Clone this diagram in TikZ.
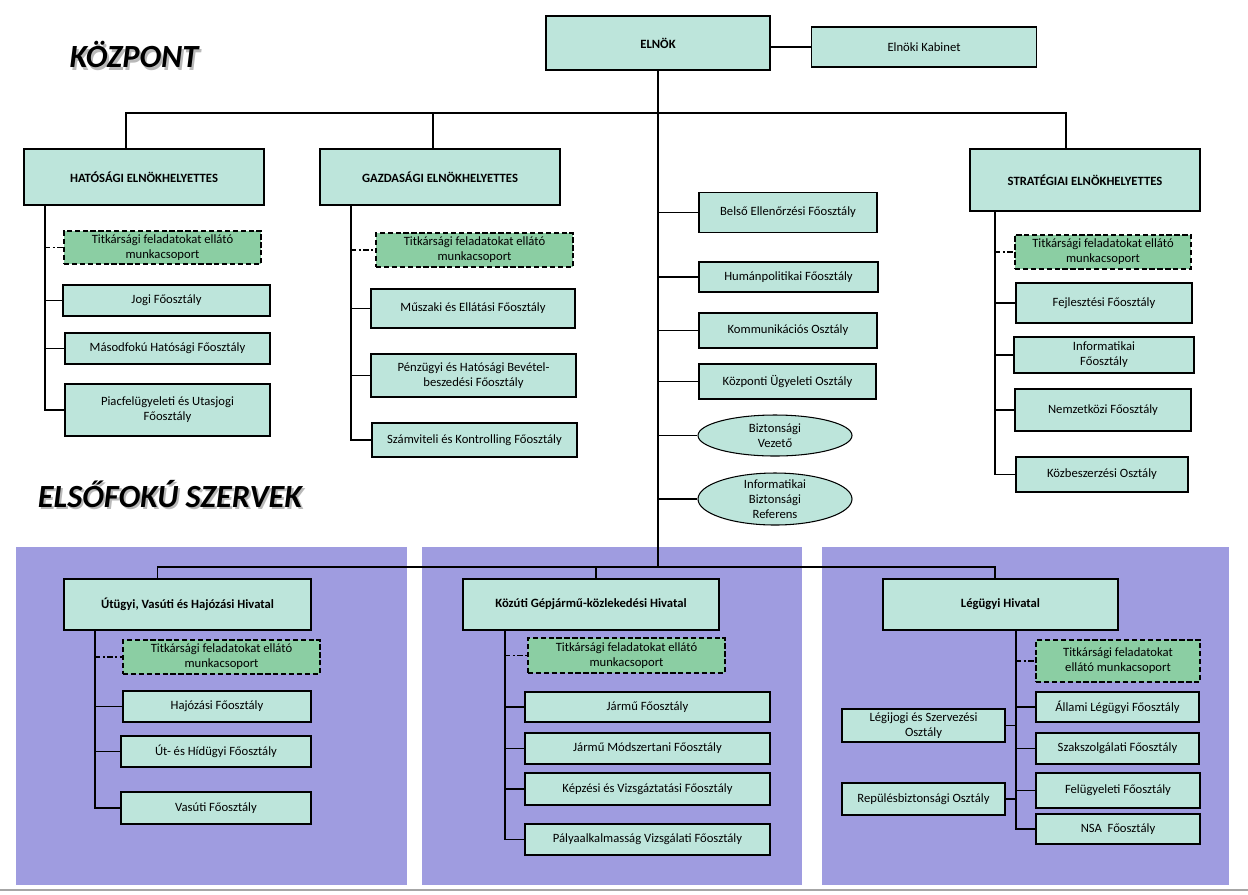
\documentclass[tikz,border=0pt]{standalone}
\usepackage{fontspec}
\setmainfont{Carlito}
\usetikzlibrary{shapes.geometric, calc}

\definecolor{boxfill}{RGB}{189,229,219}
\definecolor{titfill}{RGB}{139,206,163}
\definecolor{panelfill}{RGB}{159,156,224}

\begin{document}
\begin{tikzpicture}[
	x=0.02cm, y=-0.02cm,
	font=\fontsize{7.2}{8.6}\selectfont,
	sz/.style 2 args={minimum width=#1*0.02cm, minimum height=#2*0.02cm},
	box/.style={draw, fill=boxfill, line width=0.6pt, align=center, inner sep=1pt},
	head/.style={box, font=\fontsize{7.2}{8.6}\selectfont\bfseries},
	tit/.style={box, fill=titfill, dash pattern=on 3pt off 1.5pt},
	oval/.style={ellipse, draw, fill=boxfill, line width=0.6pt, align=center, inner xsep=0pt, inner ysep=-2pt},
	title/.style={font=\fontsize{18.4}{20}\selectfont\bfseries\itshape},
	link/.style={line width=0.6pt},
	dashdot/.style={line width=0.6pt, dash pattern=on 3pt off 1.5pt on 1pt off 1.5pt}
	]
	\useasboundingbox (0,0) rectangle (1248,894);
	
	% Panels
	\fill[panelfill] (16,547) rectangle (407,885);
	\fill[panelfill] (422,547) rectangle (802,885);
	\fill[panelfill] (822,547) rectangle (1229,885);
	\draw[gray!70, line width=1pt] (0,890) -- (1248,890);
	
	% Titles
	\node[title] (kozpont) at (134,56) {\makebox[0pt][l]{\hspace{1.2pt}\raisebox{-1.2pt}{\color{gray!55}KÖZPONT}}KÖZPONT};
	\node[title] (elsofoku) at (170,495) {\makebox[0pt][l]{\hspace{1.2pt}\raisebox{-1.2pt}{\color{gray!55}ELSŐFOKÚ SZERVEK}}ELSŐFOKÚ SZERVEK};
	
	% Top level
	\node[head, sz={224}{54}] (elnok) at (658,43) {ELNÖK};
	\node[box, sz={225}{40}] (kabinet) at (924,47) {Elnöki Kabinet};
	\node[head, sz={240}{56}] (hat) at (144,177) {HATÓSÁGI ELNÖKHELYETTES};
	\node[head, sz={240}{56}] (gazd) at (440,177) {GAZDASÁGI ELNÖKHELYETTES};
	\node[head, sz={230}{62}] (strat) at (1085,180) {STRATÉGIAI ELNÖKHELYETTES};
	
	% Branch 1: Hatosagi
	\node[tit, sz={197}{33}] (hattit) at (162.5,247.5) {Titkársági feladatokat ellátó\\munkacsoport};
	\node[box, sz={207}{31}] (jogi) at (166.5,300.5) {Jogi Főosztály};
	\node[box, sz={205}{31}] (masod) at (167.5,348.5) {Másodfokú Hatósági Főosztály};
	\node[box, sz={205}{52}] (piac) at (167.5,410) {Piacfelügyeleti és Utasjogi\\Főosztály};
	
	% Branch 2: Gazdasagi
	\node[tit, sz={197}{34}] (gazdtit) at (474.5,250) {Titkársági feladatokat ellátó\\munkacsoport};
	\node[box, sz={204}{39}] (muszaki) at (473,308.5) {Műszaki és Ellátási Főosztály};
	\node[box, sz={205}{43}] (penz) at (473.5,375.5) {Pénzügyi és Hatósági Bevétel-\\beszedési Főosztály};
	\node[box, sz={205}{34}] (szamv) at (474.5,440) {Számviteli és Kontrolling Főosztály};
	
	% Branch 3: Elnok
	\node[box, sz={178}{40}] (belso) at (788,212.5) {Belső Ellenőrzési Főosztály};
	\node[box, sz={179}{30}] (human) at (788.5,277) {Humánpolitikai Főosztály};
	\node[box, sz={178}{35}] (komm) at (788,330.5) {Kommunikációs Osztály};
	\node[box, sz={177}{35}] (kozp) at (787.5,381.5) {Központi Ügyeleti Osztály};
	\node[oval, sz={154}{41}] (bizt) at (775,435.5) {Biztonsági\\Vezető};
	\node[oval, sz={154}{52}] (infobizt) at (775,499) {Informatikai\\Biztonsági\\Referens};
	
	% Branch 4: Strategiai
	\node[tit, sz={176}{34}] (strattit) at (1103,252) {Titkársági feladatokat ellátó\\munkacsoport};
	\node[box, sz={176}{40}] (fejl) at (1104,303) {Fejlesztési Főosztály};
	\node[box, sz={180}{36}] (info) at (1104,355) {Informatikai\\Főosztály};
	\node[box, sz={176}{42}] (nemz) at (1103,410) {Nemzetközi Főosztály};
	\node[box, sz={172}{35}] (kozb) at (1102,474.5) {Közbeszerzési Osztály};
	
	% Elsofoku: Utugyi
	\node[head, sz={247}{51}] (utugyi) at (187.5,604.5) {Útügyi, Vasúti és Hajózási Hivatal};
	\node[tit, sz={197}{34}] (uttit) at (221.5,657) {Titkársági feladatokat ellátó\\munkacsoport};
	\node[box, sz={188}{31}] (hajo) at (217,706.5) {Hajózási Főosztály};
	\node[box, sz={190}{31}] (ut) at (216,751.5) {Út- és Hídügyi Főosztály};
	\node[box, sz={190}{32}] (vasut) at (216,808) {Vasúti Főosztály};
	
	% Elsofoku: Kozuti
	\node[head, sz={256}{51}] (kozut) at (591,604.5) {Közúti Gépjármű-közlekedési Hivatal};
	\node[tit, sz={197}{35}] (kozuttit) at (626.5,655.5) {Titkársági feladatokat ellátó\\munkacsoport};
	\node[box, sz={245}{30}] (jarmu) at (647.5,707) {Jármű Főosztály};
	\node[box, sz={245}{31}] (jmod) at (647.5,748.5) {Jármű Módszertani Főosztály};
	\node[box, sz={245}{32}] (kepz) at (647.5,789) {Képzési és Vizsgáztatási Főosztály};
	\node[box, sz={245}{31}] (palya) at (647.5,839.5) {Pályaalkalmasság Vizsgálati Főosztály};
	
	% Elsofoku: Legugyi
	\node[head, sz={235}{51}] (legugyi) at (1000.5,604.5) {Légügyi Hivatal};
	\node[tit, sz={164}{42}] (legtit) at (1118,661) {Titkársági feladatokat\\ellátó munkacsoport};
	\node[box, sz={163}{30}] (allami) at (1117.5,707) {Állami Légügyi Főosztály};
	\node[box, sz={163}{31}] (szaksz) at (1117.5,748.5) {Szakszolgálati Főosztály};
	\node[box, sz={164}{35}] (felugy) at (1118,790.5) {Felügyeleti Főosztály};
	\node[box, sz={164}{30}] (nsa) at (1118,829) {NSA\ \ Főosztály};
	\node[box, sz={163}{33}] (legijogi) at (923.5,725.5) {Légijogi és Szervezési\\Osztály};
	\node[box, sz={163}{32}] (repules) at (923.5,799) {Repülésbiztonsági Osztály};
	
	% Buses
	\coordinate (bus1) at (658,113);
	\coordinate (bus2) at (658,567);
	\draw[link] (elnok.east |- kabinet) -- (kabinet.west);
	\draw[link] ([xshift=-0.36cm]hat.north) |- (bus1) -| ([xshift=-0.38cm]strat.north);
	\draw[link] ([xshift=-0.14cm]gazd.north) -- ([xshift=-0.14cm]gazd.north |- bus1);
	\draw[link] (elnok.south) -- (bus2);
	\draw[link] ([xshift=-0.6cm]utugyi.north) |- (bus2) -| ([xshift=-0.11cm]legugyi.north);
	\draw[link] ([xshift=0.1cm]kozut.north) -- ([xshift=0.1cm]kozut.north |- bus2);
	
	% Trunks
	\coordinate (hatT) at (45,205);
	\coordinate (gazdT) at (351,205);
	\coordinate (stratT) at (995,211);
	\coordinate (utT) at (95,630);
	\coordinate (kozutT) at (505,630);
	\coordinate (legT) at (1016,630);
	
	\draw[link] (hatT) |- (piac.west);
	\foreach \n in {jogi,masod} \draw[link] (hatT |- \n.west) -- (\n.west);
	\draw[dashdot] (hatT |- hattit.west) -- (hattit.west);
	
	\draw[link] (gazdT) |- (szamv.west);
	\foreach \n in {muszaki,penz} \draw[link] (gazdT |- \n.west) -- (\n.west);
	\draw[dashdot] (gazdT |- gazdtit.west) -- (gazdtit.west);
	
	\foreach \n in {belso,human,komm,kozp,bizt,infobizt} \draw[link] (elnok.south |- \n.west) -- (\n.west);
	
	\draw[link] (stratT) |- (kozb.west);
	\foreach \n in {fejl,info,nemz} \draw[link] (stratT |- \n.west) -- (\n.west);
	\draw[dashdot] (stratT |- strattit.west) -- (strattit.west);
	
	\draw[link] (utT) |- (vasut.west);
	\foreach \n in {hajo,ut} \draw[link] (utT |- \n.west) -- (\n.west);
	\draw[dashdot] (utT |- uttit.west) -- (uttit.west);
	
	\draw[link] (kozutT) |- (palya.west);
	\foreach \n in {jarmu,jmod,kepz} \draw[link] (kozutT |- \n.west) -- (\n.west);
	\draw[dashdot] (kozutT |- kozuttit.west) -- (kozuttit.west);
	
	\draw[link] (legT) |- (nsa.west);
	\foreach \n in {allami,szaksz,felugy} \draw[link] (legT |- \n.west) -- (\n.west);
	\draw[dashdot] (legT |- legtit.west) -- (legtit.west);
	\foreach \n in {legijogi,repules} \draw[link] (\n.east) -- (\n.east -| legT);
	
\end{tikzpicture}
\end{document}
